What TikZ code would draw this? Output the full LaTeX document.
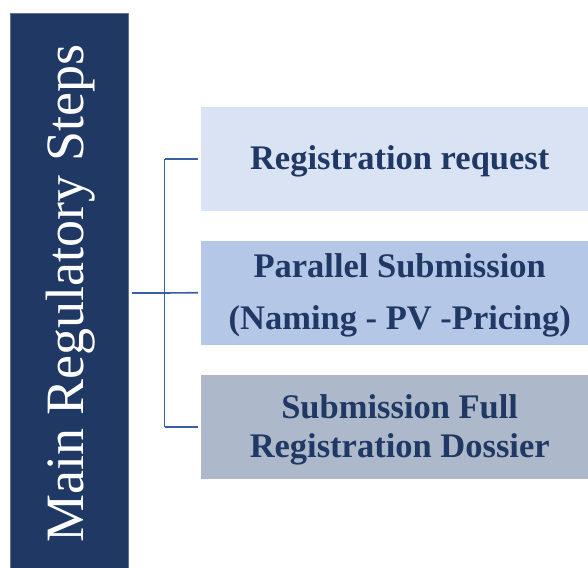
\documentclass[tikz,border=0pt]{standalone}
\usepackage{fontspec}
\setmainfont{Liberation Serif}
\definecolor{navy}{HTML}{203864}
\definecolor{link}{HTML}{3A5FA0}
\definecolor{stepA}{HTML}{DAE3F3}
\definecolor{stepB}{HTML}{B4C7E7}
\definecolor{stepC}{HTML}{ADB9CA}
\begin{document}
\begin{tikzpicture}[x=1pt,y=-1pt,
  stepbox/.style={minimum width=387pt,minimum height=104pt,anchor=north west,inner sep=0pt},
  steptext/.style={inner sep=0pt,align=center,text=navy,font=\fontsize{34.5}{39}\selectfont\bfseries},
  link/.style={draw=link,line width=1.6pt}]
\useasboundingbox (0,0) rectangle (588,567);
% title bar
\node[fill=navy,draw=navy!70!white,line width=0.5pt,minimum width=118.5pt,minimum height=554pt,
  anchor=north west,inner sep=0pt] (bar) at (9.5,13.5) {};
\node[rotate=90,text=white,font=\fontsize{54}{58}\selectfont] (title)
  at ([shift={(1.5,3)}]bar.center) {Main Regulatory Steps};
% steps
\node[stepbox,fill=stepA] (s1) at (201,107) {};
\node[stepbox,fill=stepB] (s2) at (201,240.5) {};
\node[stepbox,fill=stepC] (s3) at (201,374.5) {};
\node[steptext] (t1) at ([shift={(5,2.5)}]s1.center) {Registration request};
\node[steptext,font=\fontsize{34.5}{52}\selectfont\bfseries] (t2) at ([shift={(5,3)}]s2.center)
  {Parallel Submission\\(Naming - PV -Pricing)};
\node[steptext] (t3) at ([shift={(5,3)}]s3.center) {Submission Full\\Registration Dossier};
% bracket
\coordinate (j) at (164.5,293);
\draw[link] (bar.east |- j) ++(3,0) -- (j);
\draw[link] (j |- s1.west) -- (j |- s3.west);
\draw[link] (j |- s1.west) -- ([xshift=-3pt]s1.west);
\draw[link] (j) -- ([xshift=-3pt]s2.west);
\draw[link] (j |- s3.west) -- ([xshift=-3pt]s3.west);
\end{tikzpicture}
\end{document}
